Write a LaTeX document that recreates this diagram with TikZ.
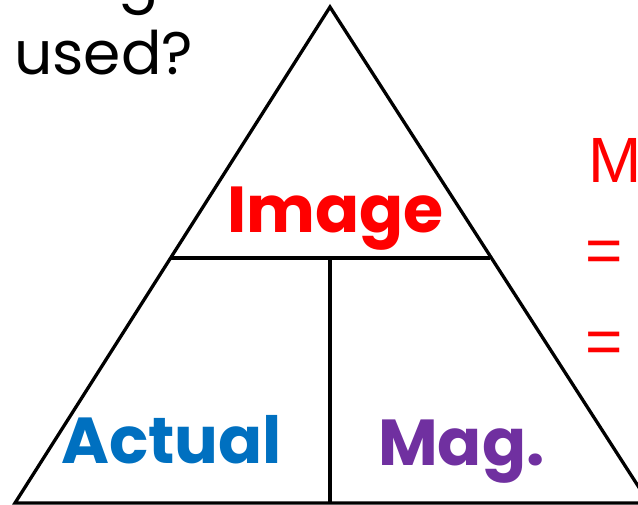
\documentclass[tikz,border=0pt]{standalone}
\usepackage{fontspec}
\setmainfont{Liberation Sans}
\newfontfamily\comic{Poppins}
\definecolor{imgred}{RGB}{255,0,0}
\definecolor{actblue}{RGB}{0,112,192}
\definecolor{magpurple}{RGB}{112,48,160}
\begin{document}
\begin{tikzpicture}[x=1pt,y=-1pt,
  edge/.style={line width=3.3pt, black},
  lbl/.style={inner sep=0pt, anchor=base west, font=\comic\bfseries\fontsize{65}{78}\selectfont},
  blk/.style={inner sep=0pt, anchor=base west, font=\comic\fontsize{60}{72}\selectfont},
  eqn/.style={inner sep=0pt, anchor=base west, text=imgred, font=\fontsize{64}{72}\selectfont}]
\useasboundingbox (0,0) rectangle (638,505);
\coordinate (apex) at (330,7);
\coordinate (bl) at (15,503);
\coordinate (br) at (649,503);
\coordinate (ml) at (171,258);
\coordinate (mr) at (490,258);
\coordinate (mm) at (330,258);
\coordinate (mb) at (330,503);
\draw[edge, line join=miter] (bl) -- (apex) -- (br) -- cycle;
\draw[edge] (ml) -- (mr);
\draw[edge] (mm) -- (mb);
\node[lbl, text=imgred] (image) at (227,233) {Image};
\node[lbl, text=actblue] (actual) at (61,464) {Actual};
\node[lbl, text=magpurple] (mag) at (378,465) {Mag.};
\node[blk] (used) at (14,75) {used?};
\node[blk] (gtail) at (118,0) {g};
\node[eqn] (m) at (588,183) {M};
\node[eqn] (eq1) at (585,273) {=};
\node[eqn] (eq2) at (585,363) {=};
\end{tikzpicture}
\end{document}
